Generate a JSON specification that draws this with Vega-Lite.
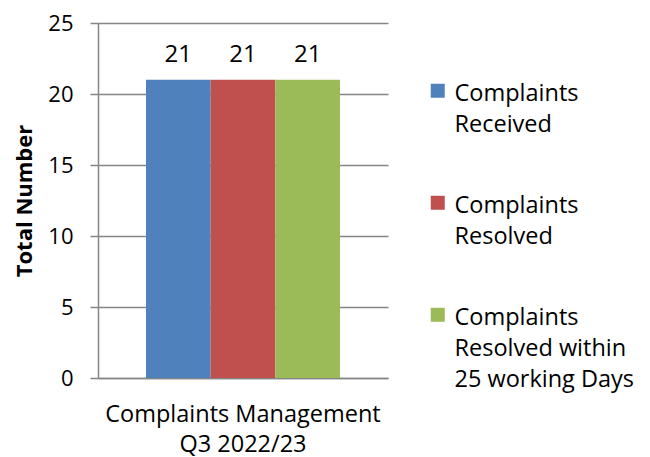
{
  "$schema": "https://vega.github.io/schema/vega-lite/v6.json",
  "width": 290,
  "height": 355,
  "autosize": "none",
  "padding": {"left": 98, "top": 23, "right": 262, "bottom": 79},
  "background": "white",
  "config": {
    "font": "Open Sans",
    "view": {"stroke": null},
    "axis": {"labelFont": "Open Sans", "titleFont": "Open Sans", "labelColor": "black", "titleColor": "black"}
  },
  "data": {
    "values": [
      {"category": "Complaints Management|Q3 2022/23", "series": "Complaints|Received", "value": 21},
      {"category": "Complaints Management|Q3 2022/23", "series": "Complaints|Resolved", "value": 21},
      {"category": "Complaints Management|Q3 2022/23", "series": "Complaints|Resolved within|25 working Days", "value": 21}
    ]
  },
  "encoding": {
    "x": {
      "field": "category",
      "type": "nominal",
      "scale": {"paddingInner": 0, "paddingOuter": 0.2474},
      "axis": {
        "title": null,
        "labelAngle": 0,
        "labelExpr": "split(datum.label, '|')",
        "labelFontSize": 23.5,
        "labelLineHeight": 30,
        "labelBaseline": "top",
        "labelPadding": 24,
        "labelLimit": 400,
        "ticks": false,
        "domainColor": "#868686",
        "domainWidth": 1.5
      }
    },
    "xOffset": {
      "field": "series",
      "type": "nominal",
      "sort": ["Complaints|Received", "Complaints|Resolved", "Complaints|Resolved within|25 working Days"],
      "scale": {"paddingInner": 0, "paddingOuter": 0}
    },
    "y": {
      "field": "value",
      "type": "quantitative",
      "scale": {"domain": [0, 25]},
      "axis": {
        "title": "Total Number",
        "titleFontSize": 22,
        "titleFontWeight": "bold",
        "titlePadding": 11,
        "values": [0, 5, 10, 15, 20, 25],
        "labelFontSize": 22,
        "labelPadding": 17,
        "tickSize": 8,
        "tickColor": "#868686",
        "tickWidth": 1.5,
        "domainColor": "#868686",
        "domainWidth": 1.5,
        "gridColor": "#868686",
        "gridWidth": 1.5
      }
    }
  },
  "layer": [
    {
      "mark": {"type": "bar"},
      "encoding": {
        "color": {
          "field": "series",
          "type": "nominal",
          "sort": ["Complaints|Received", "Complaints|Resolved", "Complaints|Resolved within|25 working Days"],
          "scale": {"range": ["#4f81bd", "#c0504d", "#9bbb59"]},
          "legend": {
            "title": null,
            "orient": "none",
            "legendX": 328,
            "legendY": 56,
            "symbolType": "square",
            "symbolSize": 196,
            "symbolStrokeWidth": 0,
            "labelFont": "Open Sans",
            "labelFontSize": 23.5,
            "labelColor": "black",
            "labelExpr": "split(datum.label, '|')",
            "labelBaseline": "top",
            "labelOffset": 5,
            "labelLimit": 300,
            "rowPadding": 54,
            "encode": {"labels": {"update": {"lineHeight": {"value": 31}, "dy": {"value": -9}}}}
          }
        }
      }
    },
    {
      "mark": {"type": "text", "dy": -25, "fontSize": 24, "font": "Open Sans", "color": "black"},
      "encoding": {"text": {"field": "value", "type": "quantitative"}}
    }
  ]
}
